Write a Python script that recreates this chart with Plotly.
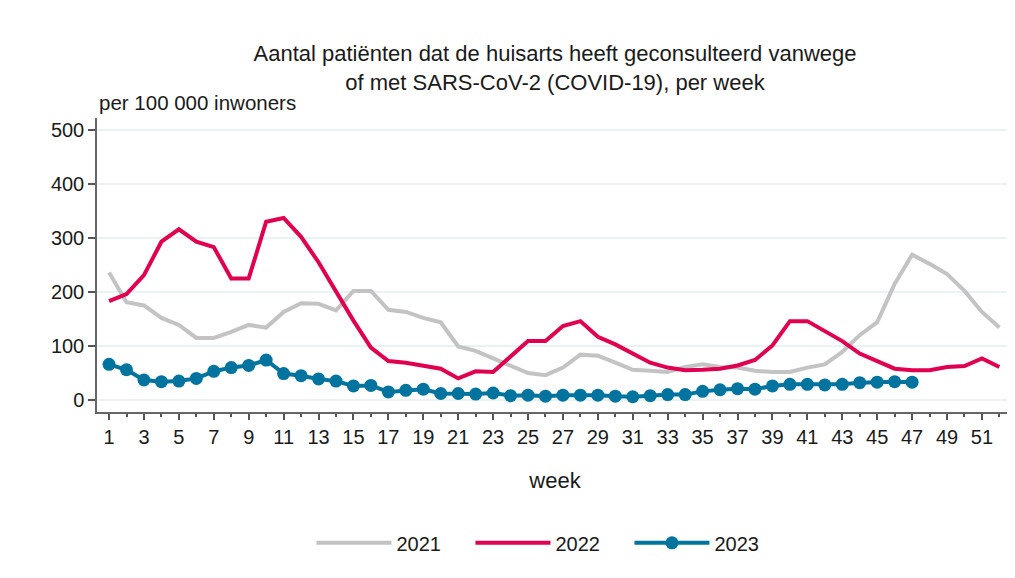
import plotly.graph_objects as go

weeks_2021 = list(range(1, 53))
vals_2021 = [236, 181, 175, 152, 139, 115, 115, 126, 139, 134, 163, 179, 178, 166, 202, 202,
             167, 163, 152, 144, 99, 91, 77, 63, 50, 46, 60, 84, 82, 69, 56, 54, 52, 61, 66,
             61, 60, 54, 52, 52, 60, 66, 89, 120, 144, 215, 269, 252, 233, 202, 163, 134]

weeks_2022 = list(range(1, 53))
vals_2022 = [183, 196, 231, 293, 316, 293, 283, 225, 225, 330, 337, 302, 255, 200, 147, 97,
             72, 69, 64, 58, 40, 53, 52, 80, 109, 109, 137, 146, 117, 103, 86, 69, 60, 55, 56,
             58, 64, 74, 101, 146, 146, 128, 109, 86, 71, 58, 55, 55, 61, 63, 77, 61]

weeks_2023 = list(range(1, 48))
vals_2023 = [66, 56, 37, 34, 35, 40, 53, 60, 64, 74, 49, 45, 39, 35, 26, 27, 15, 18, 20, 12,
             12, 11, 13, 8, 9, 7, 9, 9, 9, 7, 6, 8, 10, 10, 16, 19, 21, 20, 26, 29, 29, 28, 29,
             32, 33, 34, 33]

x_tickvals = list(range(1, 52, 2))
x_minor_tickvals = list(range(2, 53, 2))
y_tickvals = [0, 100, 200, 300, 400, 500]

FONT = "Liberation Sans, Arial, sans-serif"
TXT = "#1a1a1a"

fig = go.Figure()
fig.add_trace(go.Scatter(x=weeks_2021, y=vals_2021, name="2021", mode="lines",
                         line=dict(color="#c3c3c3", width=4)))
fig.add_trace(go.Scatter(x=weeks_2022, y=vals_2022, name="2022", mode="lines",
                         line=dict(color="#e1004f", width=4)))
fig.add_trace(go.Scatter(x=weeks_2023, y=vals_2023, name="2023", mode="lines+markers",
                         line=dict(color="#00749f", width=4),
                         marker=dict(color="#00749f", size=13)))

W, H = 1007, 570

fig.update_layout(
    width=W, height=H,
    margin=dict(l=89, r=2, t=110, b=166),
    paper_bgcolor="white", plot_bgcolor="white",
    font=dict(family=FONT, size=20, color=TXT),
    title=dict(text="Aantal patiënten dat de huisarts heeft geconsulteerd vanwege<br>of met SARS-CoV-2 (COVID-19), per week",
               x=0.5, xref="paper", xanchor="center",
               y=1 - 53 / H, yref="container", yanchor="middle",
               font=dict(family=FONT, size=22, color=TXT)),
    legend=dict(orientation="h", x=0.4945, xanchor="center", y=-0.445, yanchor="middle",
                font=dict(family=FONT, size=20, color=TXT), itemwidth=75,
                entrywidth=69, entrywidthmode="pixels",
                traceorder="normal"),
    showlegend=True,
)

fig.update_xaxes(
    range=[0.31, 52.78], tickmode="array", tickvals=x_tickvals,
    ticks="outside", ticklen=6, tickwidth=1.5, tickcolor="#555555",
    minor=dict(tickmode="array", tickvals=x_minor_tickvals, ticks="outside",
               ticklen=3, tickwidth=1.5, tickcolor="#555555", showgrid=False),
    showline=True, linecolor="#666666", linewidth=1.5,
    showgrid=False, zeroline=False,
    title=dict(text="week", standoff=26, font=dict(family=FONT, size=22, color=TXT)),
    tickfont=dict(family=FONT, size=20, color=TXT),
)
fig.update_yaxes(
    range=[-22.2, 522], tickmode="array", tickvals=y_tickvals,
    ticks="outside", ticklen=7, tickwidth=1.5, tickcolor="#555555",
    showline=True, linecolor="#666666", linewidth=1.5,
    showgrid=True, gridcolor="#eaf2f2", gridwidth=2, zeroline=False,
    tickfont=dict(family=FONT, size=20, color=TXT),
)

fig.add_annotation(text="per 100 000 inwoners", xref="paper", yref="paper",
                   x=0, y=1, xanchor="left", yanchor="bottom", yshift=2,
                   showarrow=False, font=dict(family=FONT, size=20.5, color=TXT))

fig.write_html("out.html")
